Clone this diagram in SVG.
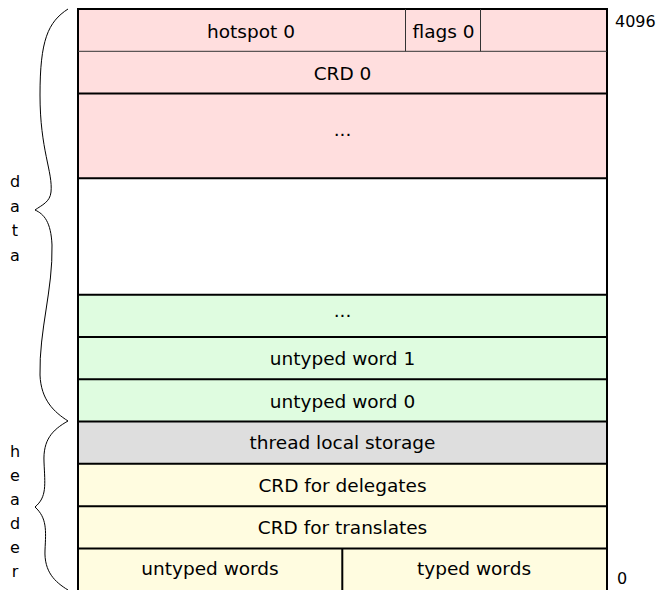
<svg xmlns="http://www.w3.org/2000/svg" width="665" height="590" viewBox="0 0 665 590">
<style>
text{font-family:"DejaVu Sans","Open Sans",sans-serif;font-size:18.5px;fill:#000;}
.c{text-anchor:middle;}
.s{font-size:16px;}
.pink{fill:#ffdede;}
.green{fill:#dffce0;}
.gray{fill:#dedede;}
.yel{fill:#fffce0;}
.thick{stroke:#000;stroke-width:2;fill:none;}
.thin{stroke:#333;stroke-width:1;fill:none;}
.brace{stroke:#000;stroke-width:1;fill:none;}
</style>
<rect width="665" height="590" fill="#fff"/>
<g id="hotspot0"><rect class="pink" x="78" y="9" width="327.5" height="42.3"/><text class="c" x="251" y="38">hotspot 0</text></g>
<g id="flags0"><rect class="pink" x="405.5" y="9" width="75" height="42.3"/><text class="c" x="443.5" y="38">flags 0</text></g>
<g id="spare0"><rect class="pink" x="480.5" y="9" width="126.5" height="42.3"/></g>
<g id="crd0"><rect class="pink" x="78" y="51.3" width="529" height="42.3"/><text class="c" x="342.5" y="80">CRD 0</text></g>
<g id="crdmore"><rect class="pink" x="78" y="93.6" width="529" height="84.6"/><text class="c" x="342.5" y="136">...</text></g>
<g id="free"><rect fill="#fff" x="78" y="178.2" width="529" height="116.5"/></g>
<g id="untypedmore"><rect class="green" x="78" y="294.7" width="529" height="42.2"/><text class="c" x="342.5" y="317">...</text></g>
<g id="untyped1"><rect class="green" x="78" y="336.9" width="529" height="42.3"/><text class="c" x="342.5" y="365">untyped word 1</text></g>
<g id="untyped0"><rect class="green" x="78" y="379.2" width="529" height="42.3"/><text class="c" x="342.5" y="408">untyped word 0</text></g>
<g id="tls"><rect class="gray" x="78" y="421.5" width="529" height="42.3"/><text class="c" x="342.5" y="448.5">thread local storage</text></g>
<g id="crddelegates"><rect class="yel" x="78" y="463.8" width="529" height="42.5"/><text class="c" x="342.5" y="491.5">CRD for delegates</text></g>
<g id="crdtranslates"><rect class="yel" x="78" y="506.3" width="529" height="42.3"/><text class="c" x="342.5" y="533.5">CRD for translates</text></g>
<g id="untypedwords"><rect class="yel" x="78" y="548.6" width="264.3" height="45"/><text class="c" x="210" y="575">untyped words</text></g>
<g id="typedwords"><rect class="yel" x="342.3" y="548.6" width="264.7" height="45"/><text class="c" x="474" y="575">typed words</text></g>
<g id="grid">
<path class="thick" d="M78,9H607M78,93.6H607M78,178.2H607M78,294.7H607M78,336.9H607M78,379.2H607M78,421.5H607M78,463.8H607M78,506.3H607M78,548.6H607M342.3,548.6V592M78,8V592M607,8V592"/>
<path class="thin" d="M78,51.3H607M405.5,9V51.3M480.5,9V51.3"/>
</g>
<g id="labels">
<text class="s" x="615" y="27">4096</text>
<text class="s" x="617" y="584">0</text>
<text class="c s" x="15" y="187">d</text>
<text class="c s" x="15" y="211.5">a</text>
<text class="c s" x="15" y="236">t</text>
<text class="c s" x="15" y="260.5">a</text>
<text class="c s" x="15" y="457">h</text>
<text class="c s" x="15" y="481">e</text>
<text class="c s" x="15" y="505">a</text>
<text class="c s" x="15" y="529">d</text>
<text class="c s" x="15" y="553">e</text>
<text class="c s" x="15" y="577">r</text>
</g>
<g id="connectors">
<path class="brace" d="M68,9 C48,22 40,40 40,95 C40,150 53,172 51,192 C50,202 42,205 35,210 C44,214 51,222 52,245 C53,290 39,330 40,375 C41,400 54,412 68,421"/>
<path class="brace" d="M68,421 C52,430 43,440 44,462 C45,485 47,497 35,507 C47,518 46,530 45,550 C44,572 55,582 68,590"/>
</g>
</svg>
